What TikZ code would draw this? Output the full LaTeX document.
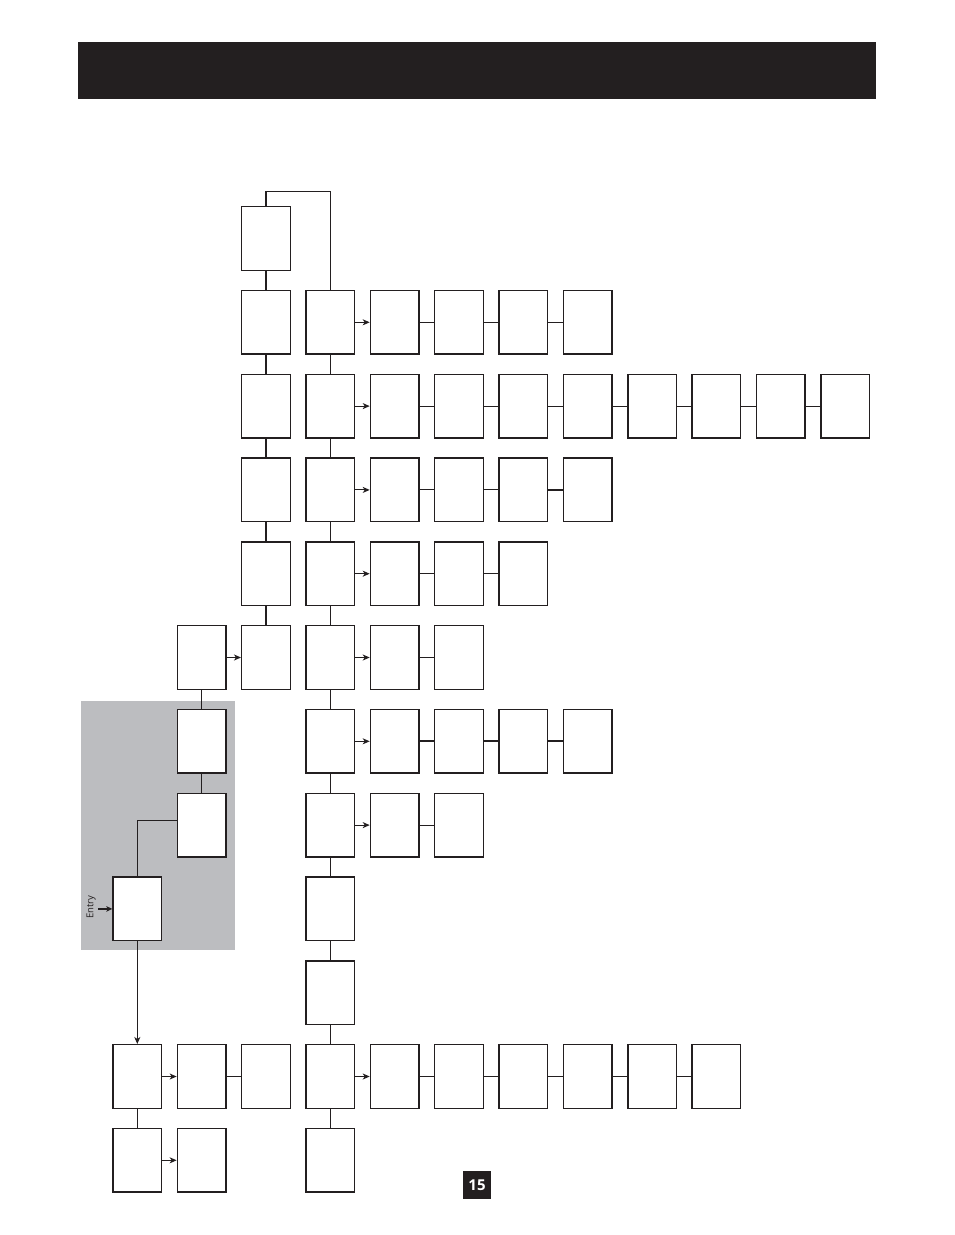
\documentclass[tikz,border=0pt]{standalone}
\usepackage{fontspec}
\setmainfont{Open Sans}
\usetikzlibrary{arrows.meta}
\definecolor{ink}{HTML}{231F20}
\definecolor{panel}{HTML}{BCBDC0}
\tikzset{
  bx/.style={draw=ink, fill=white, line width=1.4pt, minimum width=48.6pt, minimum height=63.6pt, inner sep=0pt},
  ln/.style={draw=ink, line width=1.05pt},
  thk/.style={draw=ink, line width=2pt},
  arr/.style={draw=ink, line width=1.1pt, -{Stealth[length=7pt,width=6pt,inset=2pt]}},
}
\newcommand{\cx}[1]{\fpeval{112.3+64.35*#1+25}}
\newcommand{\cy}[1]{\fpeval{206+83.8*#1+32.5}}
\begin{document}
\begin{tikzpicture}[x=1pt,y=-1pt]
\useasboundingbox (0,0) rectangle (954,1235);
% header bar
\fill[ink] (78,42) rectangle (876,99);
% gray panel
\fill[panel] (81,701) rectangle (235,949.5);
% boxes
\foreach \r/\cols in {0/{2},1/{2,3,4,5,6,7},2/{2,3,4,5,6,7,8,9,10,11},3/{2,3,4,5,6,7},4/{2,3,4,5,6},5/{1,2,3,4,5},6/{1,3,4,5,6,7},7/{1,3,4,5},8/{0,3},9/{3},10/{0,1,2,3,4,5,6,7,8,9},11/{0,1,3}}{
  \foreach \c in \cols {
    \node[bx] (n-\r-\c) at (\cx{\c},\cy{\r}) {};
  }
}
% horizontal plain lines
\foreach \r/\a/\b in {1/4/5,1/5/6,1/6/7,2/4/5,2/5/6,2/6/7,2/7/8,2/8/9,2/9/10,2/10/11,3/4/5,3/5/6,4/4/5,4/5/6,5/4/5,7/4/5,10/1/2,10/4/5,10/5/6,10/6/7,10/7/8,10/8/9}{
  \draw[ln] (n-\r-\a.east) -- (n-\r-\b.west);
}
\foreach \r/\a/\b in {3/6/7,6/4/5,6/5/6,6/6/7}{
  \draw[thk] (n-\r-\a.east) -- (n-\r-\b.west);
}
% arrows
\foreach \r/\a/\b in {1/3/4,2/3/4,3/3/4,4/3/4,5/3/4,6/3/4,7/3/4,5/1/2,10/0/1,10/3/4,11/0/1}{
  \draw[arr] (n-\r-\a.east) -- (n-\r-\b.west);
}
% vertical lines
\draw[thk] (n-0-2.south) -- (n-1-2.north);
\foreach \a/\b in {1/2,2/3,3/4,4/5}{ \draw[ln] (n-\a-2.south) -- (n-\b-2.north); }
\foreach \a/\b in {1/2,2/3,3/4,4/5,5/6,6/7,7/8,8/9,9/10,10/11}{ \draw[ln] (n-\a-3.south) -- (n-\b-3.north); }
\foreach \a/\b in {5/6,6/7}{ \draw[ln] (n-\a-1.south) -- (n-\b-1.north); }
\draw[ln] (n-10-0.south) -- (n-11-0.north);
% top loop
\coordinate (topl) at (\cx{2},191.7);
\coordinate (topr) at (\cx{3},191.7);
\draw[ln] (n-0-2.north) -- (topl) -- (topr) -- (n-1-3.north);
% panel link
\coordinate (bend) at (\cx{0},820.7);
\draw[ln] (n-7-1.west |- bend) -- (bend) -- (n-8-0.north);
% entry
\coordinate (entrystart) at (98,0);
\draw[arr, line width=1.4pt, -{Stealth[length=6pt,width=5.5pt,inset=1.5pt]}] (entrystart |- n-8-0.west) -- (n-8-0.west);
\node[rotate=90, font=\fontsize{9.5}{11}\selectfont, text=ink, inner sep=0pt] (entrylbl) at (91,907) {Entry};
\draw[arr] (n-8-0.south) -- (n-10-0.north);
% page number
\node[fill=ink, text=white, minimum width=28pt, minimum height=28.5pt, inner sep=0pt, font=\fontsize{15}{17}\selectfont\bfseries] (pg) at (477,1185) {15};
\end{tikzpicture}
\end{document}
